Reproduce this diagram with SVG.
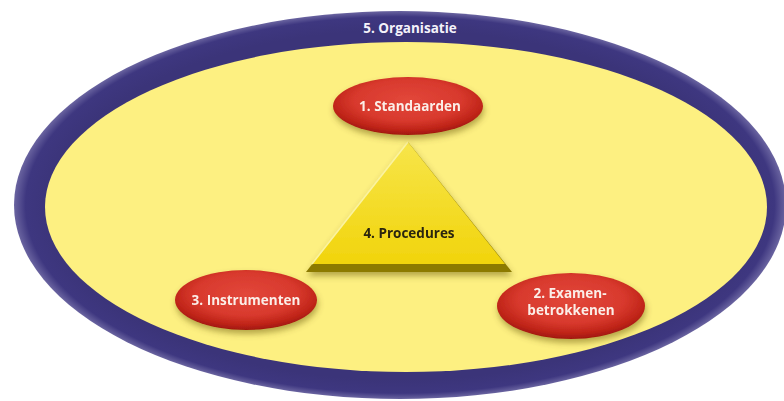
<svg xmlns="http://www.w3.org/2000/svg" width="784" height="401" viewBox="0 0 784 401">
<style>
.lbl{font-family:"Open Sans","Noto Sans","DejaVu Sans",sans-serif;font-weight:700;font-size:13.5px;text-anchor:middle}
.w{fill:#fbeee8}
.d{fill:#2b2510}
</style>
<defs>
<radialGradient id="ringG" cx="0.5" cy="0.5" r="0.5">
<stop offset="0.9" stop-color="#3b3479"/>
<stop offset="0.97" stop-color="#3e3780"/>
<stop offset="1" stop-color="#6a64a0"/>
</radialGradient>
<radialGradient id="redG" cx="0.5" cy="0.4" r="0.6">
<stop offset="0" stop-color="#e2473a"/>
<stop offset="0.6" stop-color="#d8392d"/>
<stop offset="0.85" stop-color="#bf2418"/>
<stop offset="1" stop-color="#a0170f"/>
</radialGradient>
<linearGradient id="triG" x1="0" y1="0" x2="0" y2="1">
<stop offset="0" stop-color="#f7e54a"/>
<stop offset="1" stop-color="#f1d40c"/>
</linearGradient>
<filter id="sh" x="-20%" y="-20%" width="140%" height="150%">
<feGaussianBlur in="SourceAlpha" stdDeviation="3"/>
<feOffset dx="1" dy="4" result="b"/>
<feFlood flood-color="#5a4a00" flood-opacity="0.45"/>
<feComposite in2="b" operator="in"/>
<feMerge><feMergeNode/><feMergeNode in="SourceGraphic"/></feMerge>
</filter>
</defs>
<g id="organisatie">
<ellipse cx="400" cy="205" rx="386" ry="194" fill="url(#ringG)"/>
<ellipse cx="406" cy="207" rx="361" ry="165" fill="#fdf081"/>
<text class="lbl" x="410" y="33" fill="#f4f2fa">5. Organisatie</text>
</g>
<g id="connectors"></g>
<g id="procedures" filter="url(#sh)">
<polygon points="408,142 512,272 306,272" fill="#8c7a06"/>
<polygon points="408,142 505,264 312,264" fill="url(#triG)"/>
<polyline points="312,264 408,142" fill="none" stroke="#fbf3a0" stroke-width="1.5"/>
<text class="lbl d" x="409" y="238">4. Procedures</text>
</g>
<g id="standaarden" filter="url(#sh)">
<ellipse cx="408" cy="106" rx="75" ry="29" fill="url(#redG)"/>
<text class="lbl w" x="410" y="111">1. Standaarden</text>
</g>
<g id="instrumenten" filter="url(#sh)">
<ellipse cx="246" cy="300" rx="71" ry="30" fill="url(#redG)"/>
<text class="lbl w" x="246" y="305">3. Instrumenten</text>
</g>
<g id="examenbetrokkenen" filter="url(#sh)">
<ellipse cx="571" cy="306" rx="74" ry="33" fill="url(#redG)"/>
<text class="lbl w" x="570" y="298">2. Examen-</text>
<text class="lbl w" x="571" y="315">betrokkenen</text>
</g>
</svg>
